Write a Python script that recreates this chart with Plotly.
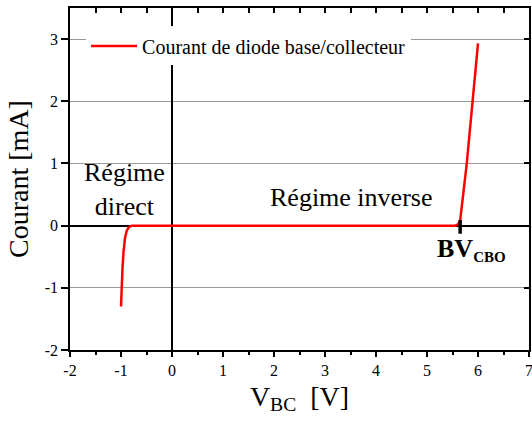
import plotly.graph_objects as go

# Data
v_bc = [-1.0, -0.99, -0.97, -0.95, -0.92, -0.89, -0.86, -0.82, -0.78, 0.0, 1.0, 2.0,
        3.0, 4.0, 5.0, 5.55, 5.61, 5.65, 5.78, 5.89, 6.0]
courant = [-1.3, -1.0, -0.67, -0.42, -0.19, -0.09, -0.04, -0.01, 0.0, 0.0, 0.0, 0.0,
           0.0, 0.0, 0.0, 0.0, 0.02, 0.08, 1.0, 2.0, 2.93]
bv_x = [5.65, 5.65]
bv_y = [0.09, -0.13]
x_range = [-2, 7]
y_range = [-2, 3.5]
x_tickvals = [-2, -1, 0, 1, 2, 3, 4, 5, 6, 7]
x_ticktext = ["-2", "-1", "0", "1", "2", "3", "4", "5", "6", "7"]
y_tickvals = [-2, -1, 0, 1, 2, 3]
y_ticktext = ["-2", "-1", "0", "1", "2", "3"]

FONT = "Liberation Serif, Times New Roman, serif"

fig = go.Figure()
fig.add_trace(go.Scatter(x=v_bc, y=courant, mode="lines",
                         line=dict(color="#ff0000", width=2.5),
                         name="Courant de diode base/collecteur"))
fig.add_trace(go.Scatter(x=bv_x, y=bv_y, mode="lines", xaxis="x2", yaxis="y2",
                         line=dict(color="black", width=3.5), showlegend=False,
                         hoverinfo="skip"))

fig.add_annotation(x=-0.94, y=0.58, text="Régime<br>direct", showarrow=False,
                   font=dict(size=26, family=FONT, color="black"), align="center")
fig.add_annotation(x=3.5, y=0.45, text="Régime inverse", showarrow=False,
                   font=dict(size=26, family=FONT, color="black"))
fig.add_annotation(x=5.15, y=-0.38, xanchor="left",
                   text="<b>BV<sub><span style='font-size:15px'>CBO</span></sub></b>",
                   showarrow=False, font=dict(size=26, family=FONT, color="black"))

fig.update_layout(
    width=532, height=421,
    margin=dict(l=70, r=3, t=8, b=71),
    paper_bgcolor="white", plot_bgcolor="white",
    font=dict(family=FONT, color="black", size=16),
    showlegend=True,
    legend=dict(x=0.035, y=0.889, xanchor="left", yanchor="middle",
                bgcolor="white", borderwidth=0, itemwidth=46,
                font=dict(size=20, family=FONT, color="black")),
    xaxis=dict(range=x_range, tickvals=x_tickvals, ticktext=x_ticktext,
               ticks="outside", ticklen=5, tickwidth=1.5, automargin=False,
               ticklabeloverflow="allow",
               tickcolor="black", showline=True, linewidth=1.5, linecolor="black",
               showgrid=False, zeroline=True, zerolinecolor="black", zerolinewidth=1.5,
               minor=dict(dtick=0.5, ticks="outside", ticklen=3, tickwidth=1.5,
                          tickcolor="black", showgrid=False),
               tickfont=dict(size=16, family=FONT, color="black"),
               title=dict(text="V<sub>BC</sub>&nbsp;&nbsp;[V]", standoff=8,
                          font=dict(size=28, family=FONT, color="black"))),
    xaxis2=dict(range=x_range, overlaying="x", side="top", dtick=0.5, ticks="inside",
                ticklen=5, tickwidth=1.5, tickcolor="black", showticklabels=False,
                automargin=False,
                showline=True, linewidth=1.5, linecolor="black", showgrid=False,
                zeroline=False),
    yaxis=dict(range=y_range, tickvals=y_tickvals, ticktext=y_ticktext,
               ticks="outside", ticklen=7, tickwidth=1.5, automargin=False,
               tickcolor="black", showline=True, linewidth=1.5, linecolor="black",
               showgrid=True, gridcolor="#999999", gridwidth=1,
               zeroline=True, zerolinecolor="black", zerolinewidth=1.5,
               tickfont=dict(size=16, family=FONT, color="black"),
               title=dict(text="Courant [mA]", standoff=8,
                          font=dict(size=28, family=FONT, color="black"))),
    yaxis2=dict(range=y_range, overlaying="y", side="right", dtick=1, ticks="inside",
                ticklen=5, tickwidth=1.5, tickcolor="black", showticklabels=False,
                automargin=False,
                showline=True, linewidth=1.5, linecolor="black", showgrid=False,
                zeroline=False),
)

fig.write_html("out.html", config={"displayModeBar": False},
               post_script="document.body.style.margin='0';document.body.style.overflow='hidden';")
